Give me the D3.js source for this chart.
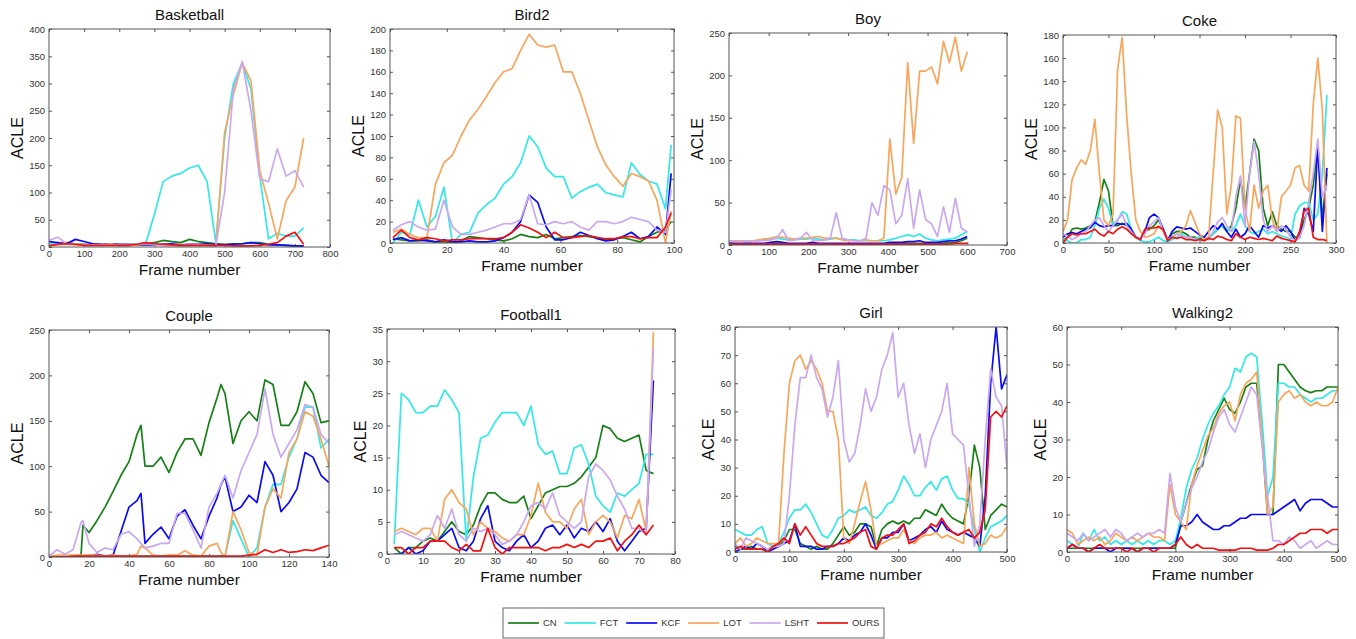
<!DOCTYPE html>
<html>
<head>
<meta charset="utf-8">
<script src="https://cdnjs.cloudflare.com/ajax/libs/d3/7.8.5/d3.min.js"></script>
<style>
  body { margin: 0; background: #fff; }
  svg { display: block; font-family: "Liberation Sans", Arial, sans-serif; }
</style>
</head>
<body>
<svg id="chart" width="1356" height="639"></svg>
<script>
// ---- data ----
var seriesNames = ["CN", "FCT", "KCF", "LOT", "LSHT", "OURS"];

// Basketball
var basketballFrames = [0,25,50,75,100,125,150,175,200,225,250,275,300,325,350,375,400,425,450,475,500,525,550,575,600,625,650,675,700,725];
var basketballCN   = [3,5,8,6,5,5,4,5,4,4,5,6,8,12,10,8,14,10,8,6,5,6,6,8,8,5,4,3,2,2];
var basketballFCT  = [5,8,5,6,4,4,3,5,4,3,4,5,60,120,130,135,145,150,120,8,200,300,338,290,130,15,25,20,20,35];
var basketballKCF  = [10,8,6,14,10,6,5,6,5,5,4,4,4,5,6,4,5,5,6,5,4,5,6,8,6,4,4,3,2,2];
var basketballLOT  = [3,4,5,4,3,3,4,6,3,3,4,6,5,3,3,2,3,3,3,2,210,280,338,305,140,80,15,85,110,200];
var basketballLSHT = [12,18,6,5,4,4,3,4,3,3,5,8,4,3,3,3,3,4,3,2,100,290,340,250,125,120,180,130,140,110];
var basketballOURS = [2,5,6,5,3,3,3,3,3,3,5,8,6,5,4,3,3,3,3,3,3,2,2,2,3,5,8,20,27,5];
var basketballXTicks = [0,100,200,300,400,500,600,700,800];
var basketballYTicks = [0,50,100,150,200,250,300,350,400];

// Bird2
var bird2Frames = [1,4,7,10,13,16,19,22,25,28,31,34,37,40,43,46,49,52,55,58,61,64,67,70,73,76,79,82,85,88,91,94,97,99];
var bird2CN   = [4,3,2,2,3,1,1,0,2,6,5,4,3,2,4,8,6,5,8,4,5,6,7,6,5,3,4,5,3,1,6,10,12,20];
var bird2FCT  = [0,10,8,40,15,25,52,0,8,10,28,36,42,55,62,75,100,90,70,62,62,42,48,52,55,47,45,43,75,64,58,55,32,92];
var bird2KCF  = [3,5,2,3,2,1,3,1,1,2,1,1,2,5,10,20,45,38,15,3,3,5,10,7,4,2,3,6,10,4,6,15,8,65];
var bird2LOT  = [10,13,8,5,5,55,75,82,100,115,125,137,150,160,163,180,195,185,183,185,160,160,140,115,90,73,62,53,65,62,58,40,0,30];
var bird2LSHT = [12,17,20,15,12,13,40,15,8,8,10,12,15,18,18,22,45,18,17,20,18,20,15,12,20,20,18,20,24,22,20,12,10,50];
var bird2OURS = [5,12,5,3,5,4,2,3,3,4,4,4,4,5,10,17,14,10,5,10,5,5,6,7,5,4,4,6,6,4,5,5,15,28];
var bird2XTicks = [0,20,40,60,80,100];
var bird2YTicks = [0,20,40,60,80,100,120,140,160,180,200];

// Boy
var boyFrames = [0,15,30,45,60,75,90,105,120,135,150,165,180,195,210,225,240,255,270,285,300,315,330,345,360,375,390,405,420,435,450,465,480,495,510,525,540,555,570,585,600];
var boyCN   = [1,1,1,1,1,1,1,1,2,1,1,1,1,1,1,1,1,1,1,1,1,1,1,1,1,1,1,2,2,2,2,2,2,2,2,2,2,3,3,5,8];
var boyFCT  = [3,3,4,4,4,5,7,7,8,7,6,6,7,7,8,7,6,7,8,7,6,6,5,5,5,5,5,6,8,10,12,10,13,8,6,5,6,7,8,12,16];
var boyKCF  = [2,2,2,2,2,2,2,3,4,3,2,2,2,2,3,2,2,2,2,2,2,2,2,2,2,2,2,3,3,3,4,4,5,3,3,3,4,5,5,7,10];
var boyLOT  = [5,5,5,5,5,6,7,8,10,9,8,7,8,8,9,10,8,8,8,6,5,5,5,6,5,5,8,125,60,80,215,120,205,205,210,190,240,215,245,205,228];
var boyLSHT = [5,4,4,5,4,5,5,6,8,18,5,6,8,15,6,5,6,8,38,8,6,5,5,8,50,35,70,65,25,35,78,20,65,30,25,10,45,15,55,20,15];
var boyOURS = [1,1,1,1,1,1,1,1,1,1,1,1,1,1,1,1,1,1,1,1,1,1,1,1,1,1,1,1,1,1,1,1,1,1,1,1,1,1,2,2,2];
var boyXTicks = [0,100,200,300,400,500,600,700];
var boyYTicks = [0,50,100,150,200,250];

// Coke
var cokeFrames = [0,5,10,15,20,25,30,35,40,45,50,55,60,65,70,75,80,85,90,95,100,105,110,115,120,125,130,135,140,145,150,155,160,165,170,175,180,185,190,195,200,205,210,215,220,225,230,235,240,245,250,255,260,265,270,275,280,285,290];
var cokeCN   = [2,5,12,13,12,13,15,18,35,55,45,15,15,17,15,10,5,3,10,12,15,20,12,3,8,10,10,8,5,5,4,3,5,8,12,15,10,15,30,55,30,60,90,80,30,15,27,15,12,10,10,5,5,20,30,50,85,20,60];
var cokeFCT  = [3,2,0,0,3,3,5,15,30,38,30,15,20,27,25,12,5,2,1,1,3,5,2,1,3,5,8,5,3,4,5,5,3,8,12,15,12,10,15,25,15,10,8,10,12,8,10,8,6,5,3,25,32,35,35,20,25,60,128];
var cokeKCF  = [5,8,9,8,10,12,13,18,15,14,15,15,17,16,17,12,5,3,10,22,25,22,12,2,10,14,13,12,13,10,7,5,10,15,12,17,10,5,12,5,8,15,10,5,15,13,15,13,10,15,10,2,5,30,25,10,85,10,65];
var cokeLOT  = [10,20,55,65,72,68,80,107,60,20,15,25,150,178,110,60,20,10,5,6,8,15,10,3,5,8,10,15,28,18,8,3,5,60,115,100,25,50,110,108,30,10,50,30,45,50,20,10,40,45,50,65,67,50,45,120,160,115,0];
var cokeLSHT = [8,6,3,5,8,10,15,20,22,15,10,15,20,25,15,10,5,3,8,15,18,22,10,3,5,8,6,5,5,3,3,2,4,10,18,22,15,10,40,58,15,60,88,60,20,10,15,10,15,12,5,2,5,15,35,60,90,40,50];
var cokeOURS = [0,5,8,7,8,8,10,12,8,6,10,8,12,14,12,8,5,3,12,13,13,14,12,2,5,4,5,3,3,2,3,2,4,3,6,5,3,2,8,5,3,5,4,3,4,3,2,6,4,3,2,1,10,28,30,5,3,3,2];
var cokeXTicks = [0,50,100,150,200,250,300];
var cokeYTicks = [0,20,40,60,80,100,120,140,160,180];

// Couple
var coupleFrames = [0,4,8,12,16,17,20,24,28,32,36,40,44,46,48,52,56,60,64,68,72,76,80,84,86,88,92,96,100,104,108,112,116,120,124,128,132,136,140];
var coupleCN   = [1,1,1,1,2,35,27,40,55,72,90,105,135,145,100,100,110,93,115,130,130,112,148,175,190,180,125,150,160,150,195,190,145,145,160,193,180,148,150];
var coupleFCT  = [2,1,1,1,1,1,1,1,1,1,1,1,1,1,1,1,1,1,1,1,1,1,1,1,1,1,40,20,0,10,55,80,80,110,130,165,165,120,130];
var coupleKCF  = [1,1,1,1,1,1,1,3,1,2,28,55,62,70,15,25,33,20,45,52,35,20,45,65,80,88,50,55,68,60,105,90,50,60,75,115,110,90,82];
var coupleLOT  = [1,2,2,2,2,2,2,2,1,2,1,1,3,12,10,2,1,2,2,7,2,1,12,15,5,0,50,30,5,2,55,75,65,115,130,160,155,130,100];
var coupleLSHT = [1,8,3,8,38,40,15,5,10,8,25,28,20,15,10,12,15,15,48,48,30,10,55,70,80,90,65,95,115,135,185,135,110,125,140,168,165,135,125];
var coupleOURS = [0,0,0,1,1,1,1,1,1,1,1,1,1,1,1,1,1,1,1,1,1,1,1,1,1,1,1,1,2,3,8,5,8,5,6,8,7,10,13];
var coupleXTicks = [0,20,40,60,80,100,120,140];
var coupleYTicks = [0,50,100,150,200,250];

// Football1
var football1Frames = [2,4,6,8,10,12,14,16,18,20,22,24,26,28,30,32,34,36,38,40,42,44,46,48,50,52,54,56,58,60,62,64,66,68,70,72,74];
var football1CN   = [1,0,1,1,2,2.5,2,3.5,5,3.5,3,4.5,7.5,9.5,9.5,8.5,8,8,9,5.5,7.5,9.5,10,10.5,10.5,11,12,13.5,15,20,19.5,18,17.5,18,18.5,13,12.5];
var football1FCT  = [1.5,25,24,22,22,23,23,25.5,24,22,2,12,18,18.5,20.5,22,22,22,20,23,17,15.5,16,12.5,12.5,16.5,17,14,9,7.5,6.5,9.5,9,10,11,15.5,15.5];
var football1KCF  = [0,0,1,0,0.5,2,2,3,4,1,0.5,2,5.5,7.5,2,1,0.5,2,3,1,2,4,4.5,3,4.5,2.5,4,3.5,5,3.5,5.5,2,0.5,2,3.5,4,27];
var football1LOT  = [3.5,4,3.5,3,4,4,2,8.5,10,8,7,3,5,4,3.5,2.5,2,3,3,6,11,6.5,5,5,4,7,8.5,3,5,6,5,2.5,6,5.5,8.5,3.5,34.5];
var football1LSHT = [3,3.5,3,2.5,2,3,6,4,7,3,2,4,3.5,4,3,1.5,2,3,5,7.5,8,7,9.5,6,5,4,5,12,14,13,11.5,9,7,4,4,3,32];
var football1OURS = [1,1,0,1,1,2,2,2,1,0.5,1.5,0.5,0.5,4,1,0,1,1,1,1,1,0.5,1,1,1.5,1,1.5,1,2,2,2.5,0.5,2,3,4.5,3,4.5];
var football1XTicks = [0,10,20,30,40,50,60,70,80];
var football1YTicks = [0,5,10,15,20,25,30,35];

// Girl
var girlFrames = [0,10,20,30,40,50,60,70,80,90,100,110,120,130,140,150,160,170,180,190,200,210,220,230,240,250,260,270,280,290,300,310,320,330,340,350,360,370,380,390,400,410,420,430,440,450,460,470,480,490,500];
var girlCN   = [2,1,1,2,1,1,0,2,2,4,8,8,3,2,1,2,1,1,3,6,9,6,7,10,10,9,2,8,10,11,10,11,10,12,12,15,14,13,17,14,12,11,10,20,38,30,8,13,15,17,16];
var girlFCT  = [8,7,6,6,8,9,3,2,3,7,12,15,15,17,14,10,6,5,8,12,13,15,14,15,16,13,12,14,17,18,22,27,24,20,20,23,25,22,26,27,22,19,19,17,8,0,5,9,10,11,13];
var girlKCF  = [0,1,2,1,3,2,0,1,2,3,4,10,2,2,2,1,1,2,2,3,5,4,6,7,10,6,1,5,5,7,7,10,4,5,6,8,9,7,11,8,7,6,7,6,5,2,20,60,80,58,63];
var girlLOT  = [3,5,2,3,5,4,3,3,3,35,60,68,70,65,68,65,60,50,50,40,5,3,10,18,25,15,2,3,4,5,5,8,4,3,5,6,6,7,5,6,5,4,3,30,10,2,3,6,5,6,9];
var girlLSHT = [3,1,5,4,3,2,1,2,2,3,20,45,62,62,70,62,58,48,55,68,40,32,35,45,58,50,55,65,70,78,55,60,45,35,42,30,40,45,50,60,42,40,38,20,2,10,40,65,55,52,30];
var girlOURS = [1,2,1,1,1,1,0,2,3,5,3,10,6,9,6,3,2,2,2,3,3,4,5,7,8,2,1,5,6,6,8,10,3,4,6,7,10,9,12,9,7,6,7,8,5,7,15,48,50,48,52];
var girlXTicks = [0,100,200,300,400,500];
var girlYTicks = [0,10,20,30,40,50,60,70,80];

// Walking2
var walking2Frames = [0,10,20,30,40,50,60,70,80,90,100,110,120,130,140,150,160,170,180,190,200,210,220,230,240,250,260,270,280,290,300,310,320,330,340,350,360,370,380,390,400,410,420,430,440,450,460,470,480,490,500];
var walking2CN   = [1,1,1,1,1,1,1,1,1,1,1,1,1,1,1,1,1,1,1,1,1,8,13,18,22,23,30,35,38,41,38,37,40,44,45,45,30,10,10,50,50,48,46,44,43,42.5,43,43,44,44,44];
var walking2FCT  = [3,2,1,5,3,6,3,4,2,3,2,3,2,3,2,3,2,3,3,2,3,9,17,22,25,30,34,37,39,42,44,49,48,52,53,52,35,15,20,45,45,44,44,42,41,40,41,41,42,43,43];
var walking2KCF  = [1,2,1,1,0,1,1,1,0,1,1,1,1,0,1,1,1,1,1,1,2,7,7,8,10,8,7,6,6,7,7,8,9,9,10,10,10,10,10,11,12,13,14,11,13,14,14,14,13,12,12];
var walking2LOT  = [6,5,2,3,4,3,4,2,3,5,4,3,4,3,4,5,4,4,3,18,10,8,6,18,23,27,31,33,37,39,40,35,42,45,46,48,30,10,12,40,42,43,41,42,40,39,40,39,39,40,44];
var walking2LSHT = [5,4,3,5,3,4,5,6,4,6,5,3,4,5,4,5,5,6,5,21,12,8,13,17,20,24,27,32,36,38,34,32,36,40,44,42,28,15,3,3,2,4,3,1,2,3,1,2,3,2,2];
var walking2OURS = [1,2,1,1,0,1,2,1,1,1,1,0,1,0,1,1,0,1,1,1,2,4,2,1,2,1,1,1,0.5,0.5,0.5,0.5,1,1,1,0.5,0.5,0.5,1,2,2,3,4,5,5,6,6,6,5,6,6];
var walking2XTicks = [0,100,200,300,400,500];
var walking2YTicks = [0,10,20,30,40,50,60];

// ---- drawing ----
var
  svg = d3.select("#chart"),

  SERIES_COLORS = ["#168016", "#33e8e8", "#0a0af5", "#f7a65c", "#c9a8f0", "#f51010"],
  LINE_WIDTH = 1.7,
  BOX_COLOR = "#555",
  TICK_TEXT_COLOR = "#333",
  LABEL_COLOR = "#111",
  TICK_LENGTH = 3,

  // plot boxes: left, top, right, bottom (pixels)
  panels = [
    { title: "Basketball", frames: basketballFrames, xTicks: basketballXTicks, yTicks: basketballYTicks,
      values: [basketballCN, basketballFCT, basketballKCF, basketballLOT, basketballLSHT, basketballOURS],
      box: [49, 29, 330, 247] },
    { title: "Bird2", frames: bird2Frames, xTicks: bird2XTicks, yTicks: bird2YTicks,
      values: [bird2CN, bird2FCT, bird2KCF, bird2LOT, bird2LSHT, bird2OURS],
      box: [390, 29, 674, 243] },
    { title: "Boy", frames: boyFrames, xTicks: boyXTicks, yTicks: boyYTicks,
      values: [boyCN, boyFCT, boyKCF, boyLOT, boyLSHT, boyOURS],
      box: [729, 33, 1007, 245] },
    { title: "Coke", frames: cokeFrames, xTicks: cokeXTicks, yTicks: cokeYTicks,
      values: [cokeCN, cokeFCT, cokeKCF, cokeLOT, cokeLSHT, cokeOURS],
      box: [1063, 35, 1336, 243] },
    { title: "Couple", frames: coupleFrames, xTicks: coupleXTicks, yTicks: coupleYTicks,
      values: [coupleCN, coupleFCT, coupleKCF, coupleLOT, coupleLSHT, coupleOURS],
      box: [49, 330, 329, 557] },
    { title: "Football1", frames: football1Frames, xTicks: football1XTicks, yTicks: football1YTicks,
      values: [football1CN, football1FCT, football1KCF, football1LOT, football1LSHT, football1OURS],
      box: [387, 329, 675, 554] },
    { title: "Girl", frames: girlFrames, xTicks: girlXTicks, yTicks: girlYTicks,
      values: [girlCN, girlFCT, girlKCF, girlLOT, girlLSHT, girlOURS],
      box: [735, 327, 1007, 552] },
    { title: "Walking2", frames: walking2Frames, xTicks: walking2XTicks, yTicks: walking2YTicks,
      values: [walking2CN, walking2FCT, walking2KCF, walking2LOT, walking2LSHT, walking2OURS],
      box: [1067, 327, 1338, 552] }
  ];

function styleAxis(g){
  g.select(".domain").remove();
  g.selectAll(".tick line").attr("stroke", BOX_COLOR);
  g.selectAll(".tick text")
    .attr("fill", TICK_TEXT_COLOR)
    .style("font-size", "9.5px")
    .style("font-family", "'Liberation Sans', Arial, sans-serif");
}

function drawPanel(panel, index){
  var
    left = panel.box[0], top = panel.box[1], right = panel.box[2], bottom = panel.box[3],
    xTicks = panel.xTicks, yTicks = panel.yTicks,
    x = d3.scaleLinear().domain([xTicks[0], xTicks[xTicks.length - 1]]).range([left, right]),
    y = d3.scaleLinear().domain([yTicks[0], yTicks[yTicks.length - 1]]).range([bottom, top]),
    g = svg.append("g"),
    clipId = "clip-" + index,
    labelChars = d3.max(yTicks, function(t){ return String(t).length; }),
    line = d3.line()
      .x(function(d){ return x(d[0]); })
      .y(function(d){ return y(d[1]); });

  g.append("clipPath").attr("id", clipId)
    .append("rect")
    .attr("x", left).attr("y", top)
    .attr("width", right - left).attr("height", bottom - top);

  // axes, MATLAB style: ticks inside on all four sides
  g.append("g").attr("transform", "translate(0," + bottom + ")")
    .call(d3.axisBottom(x).tickValues(xTicks).tickSize(-TICK_LENGTH).tickPadding(3))
    .call(styleAxis);
  g.append("g").attr("transform", "translate(" + left + ",0)")
    .call(d3.axisLeft(y).tickValues(yTicks).tickSize(-TICK_LENGTH).tickPadding(4))
    .call(styleAxis);
  g.append("g").attr("transform", "translate(0," + top + ")")
    .call(d3.axisTop(x).tickValues(xTicks).tickSize(-TICK_LENGTH).tickFormat(""))
    .call(styleAxis);
  g.append("g").attr("transform", "translate(" + right + ",0)")
    .call(d3.axisRight(y).tickValues(yTicks).tickSize(-TICK_LENGTH).tickFormat(""))
    .call(styleAxis);

  // series
  var lines = g.append("g").attr("clip-path", "url(#" + clipId + ")");
  panel.values.forEach(function(values, s){
    var points = panel.frames.map(function(f, i){ return [f, values[i]]; });
    lines.append("path")
      .attr("d", line(points))
      .attr("fill", "none")
      .attr("stroke", SERIES_COLORS[s])
      .attr("stroke-width", LINE_WIDTH)
      .attr("stroke-linejoin", "round");
  });

  // box
  g.append("rect")
    .attr("x", left).attr("y", top)
    .attr("width", right - left).attr("height", bottom - top)
    .attr("fill", "none")
    .attr("stroke", BOX_COLOR)
    .attr("stroke-width", 1);

  // title and labels
  g.append("text")
    .text(panel.title)
    .attr("x", (left + right) / 2)
    .attr("y", top - 9)
    .attr("text-anchor", "middle")
    .attr("fill", LABEL_COLOR)
    .style("font-size", "15px");

  g.append("text")
    .text("Frame number")
    .attr("x", (left + right) / 2)
    .attr("y", bottom + 28)
    .attr("text-anchor", "middle")
    .attr("fill", LABEL_COLOR)
    .style("font-size", "15.5px");

  var yLabelX = left - (labelChars * 5 + 17) + 6;
  g.append("text")
    .text("ACLE")
    .attr("transform", "translate(" + yLabelX + "," + ((top + bottom) / 2) + ") rotate(-90)")
    .attr("text-anchor", "middle")
    .attr("fill", LABEL_COLOR)
    .style("font-size", "16px");
}

function drawLegend(){
  var
    legend = svg.append("g"),
    LEFT = 503, TOP = 608, RIGHT = 884, BOTTOM = 638,
    middleY = 623,
    cursor = 508;

  legend.append("rect")
    .attr("x", LEFT).attr("y", TOP)
    .attr("width", RIGHT - LEFT).attr("height", BOTTOM - TOP)
    .attr("fill", "white")
    .attr("stroke", "#666")
    .attr("stroke-width", 1);

  seriesNames.forEach(function(name, s){
    legend.append("line")
      .attr("x1", cursor).attr("x2", cursor + 31)
      .attr("y1", middleY).attr("y2", middleY)
      .attr("stroke", SERIES_COLORS[s])
      .attr("stroke-width", LINE_WIDTH);
    var label = legend.append("text")
      .text(name)
      .attr("x", cursor + 35)
      .attr("y", middleY + 3.3)
      .attr("fill", "#333")
      .style("font-size", "9.5px");
    cursor += 35 + label.node().getComputedTextLength() + 8;
  });
}

svg.append("rect").attr("width", 1356).attr("height", 639).attr("fill", "white");
panels.forEach(drawPanel);
drawLegend();
</script>
</body>
</html>
